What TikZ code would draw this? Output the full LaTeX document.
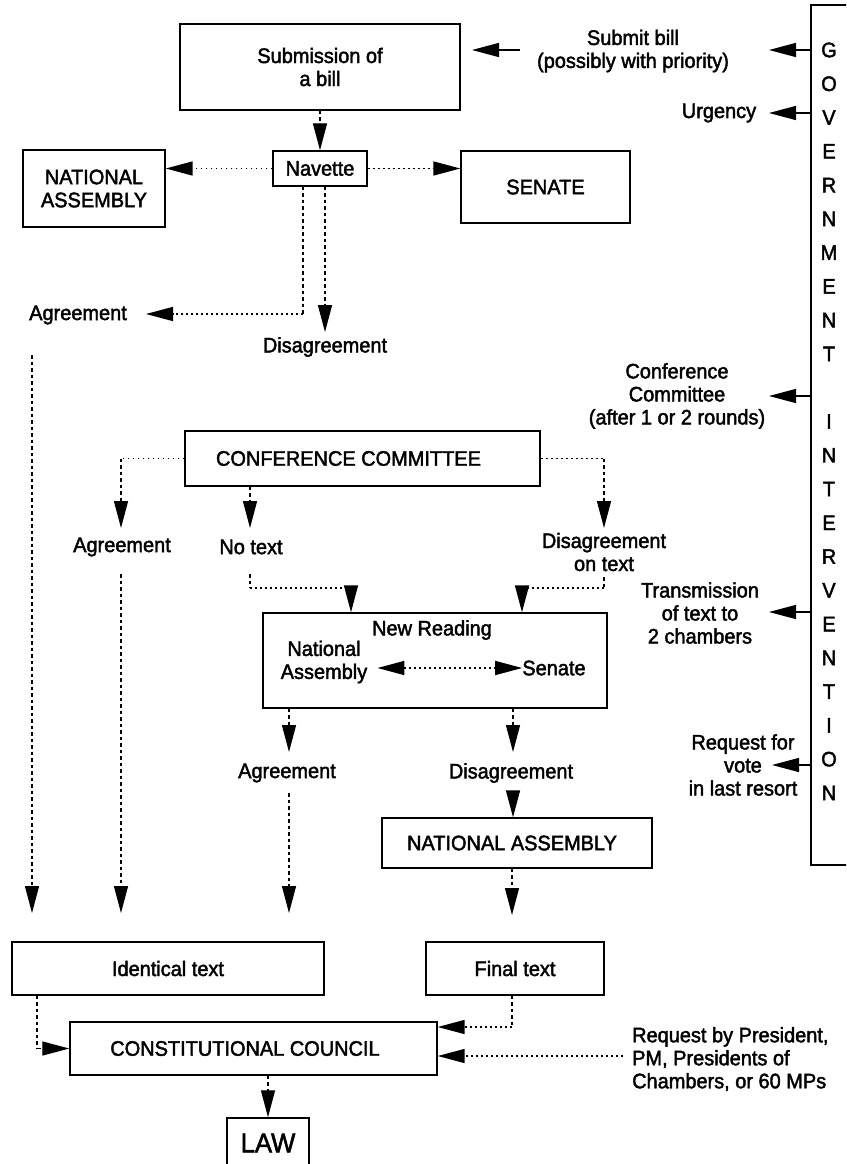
\documentclass[tikz,border=0pt]{standalone}
\usepackage{fontspec}
\setmainfont[FakeStretch=0.95,FakeBold=2]{Liberation Sans}
\usetikzlibrary{arrows.meta}
\begin{document}
\begin{tikzpicture}[x=1pt,y=-1pt,
  box/.style={draw, line width=1.4pt, inner sep=0pt, align=center, font=\fontsize{21}{23}\selectfont},
  lbl/.style={inner sep=0pt, align=center, font=\fontsize{21}{23}\selectfont},
  tip/.style={-{Triangle[length=27pt,width=14pt]}},
  dots/.style={line width=1.5pt, dash pattern=on 1.8pt off 3.2pt},
  dsh/.style={line width=1.3pt, dash pattern=on 3.5pt off 3pt},
  sol/.style={line width=1.4pt}
]
\clip (0,0) rectangle (846,1164);
\fill[white] (0,0) rectangle (846,1164);

% Government intervention column
\node[draw, line width=1.4pt, minimum width=69pt, minimum height=860pt, inner sep=0pt] (gov) at (845.5,435) {};
\foreach \c [count=\i from 0] in {G,O,V,E,R,N,M,E,N,T}
  \node[lbl] (ga\i) at (829,50+\i*33.77) {\c};
\foreach \c [count=\i from 11] in {I,N,T,E,R,V,E,N,T,I,O,N}
  \node[lbl] (gb\i) at (829,50+\i*33.77) {\c};

% Boxes
\node[box, minimum width=280pt, minimum height=86pt] (sub) at (320,67) {Submission of\\a bill};
\node[box, minimum width=94pt, minimum height=35pt] (nav) at (320,168.5) {Navette};
\node[box, minimum width=142pt, minimum height=77pt] (na1) at (94,188.5) {NATIONAL\\ASSEMBLY};
\node[box, minimum width=169pt, minimum height=72pt] (sen) at (545.5,187) {SENATE};
\node[box, minimum width=355pt, minimum height=55pt] (ccb) at (362.5,458.5) {\hspace*{-28pt}CONFERENCE COMMITTEE};
\node[box, minimum width=344pt, minimum height=95pt] (nr) at (435,660.5) {};
\node[box, minimum width=270pt, minimum height=50pt] (na2) at (517,843) {\hspace*{-10pt}NATIONAL ASSEMBLY};
\node[box, minimum width=312pt, minimum height=53pt] (idt) at (168,968.5) {Identical text};
\node[box, minimum width=178pt, minimum height=53pt] (fin) at (515,968.5) {Final text};
\node[box, minimum width=367pt, minimum height=53pt] (con) at (253.5,1048.5) {\hspace*{-17pt}CONSTITUTIONAL COUNCIL};
\node[box, minimum width=82pt, minimum height=50pt, font=\fontsize{27}{29}\selectfont] (law) at (268,1143) {LAW};

% Inner texts of New Reading
\node[lbl] (nrt) at (432,630) {New Reading};
\node[lbl] (nra) at (324,662) {National\\Assembly};
\node[lbl] (nrs) at (554,668) {Senate};

% Labels
\node[lbl] (submit) at (633,51) {Submit bill\\(possibly with priority)};
\node[lbl] (urg) at (719,113) {Urgency};
\node[lbl] (ccl) at (677,396) {Conference\\Committee\\(after 1 or 2 rounds)};
\node[lbl] (trans) at (700,613) {Transmission\\of text to\\2 chambers};
\node[lbl] (vote) at (743,765) {Request for\\vote\\in last resort};
\node[lbl, align=left, anchor=west] (req) at (632,1059) {Request by President,\\PM, Presidents of\\Chambers, or 60 MPs};
\node[lbl] (agr1) at (78,315) {Agreement};
\node[lbl] (dis1) at (325,347) {Disagreement};
\node[lbl] (agr2) at (122,547) {Agreement};
\node[lbl] (notx) at (251,547) {No text};
\node[lbl] (dis2) at (604,552) {Disagreement\\on text};
\node[lbl] (agr3) at (287,773) {Agreement};
\node[lbl] (dis3) at (511,773) {Disagreement};

% Government arrows
\coordinate (t1) at (769,50);
\coordinate (t2) at (769,113);
\coordinate (t3) at (769,396);
\coordinate (t4) at (769,612);
\coordinate (t5) at (772,765);
\foreach \t in {t1,t2,t3,t4,t5}
  \draw[sol,tip] (gov.west |- \t) -- (\t);

% Submit bill -> submission
\coordinate (s1) at (472,50);
\draw[sol,tip] ([xshift=-17pt]submit.west |- s1) -- (s1);

% Submission -> Navette
\draw[dsh,tip] (sub.south) -- (nav.north);
\draw[dots,tip] (nav.west) -- (nav.west -| na1.east);
\draw[dots,tip] (nav.east) -- (nav.east -| sen.west);

% Navette -> Agreement / Disagreement
\coordinate (c1) at (303,314);
\coordinate (a1t) at (146,314);
\draw[dsh] (nav.south -| c1) -- (c1);
\draw[dots,tip] (c1) -- (a1t);
\coordinate (d1t) at (325,332);
\draw[dsh,tip] (nav.south -| d1t) -- (d1t);

% Long verticals to Identical text
\coordinate (v1s) at (32,355);
\coordinate (v1t) at (32,913);
\draw[dsh,tip] (v1s) -- (v1t);
\coordinate (v2s) at (121,574);
\coordinate (v2t) at (121,913);
\draw[dsh,tip] (v2s) -- (v2t);

% Conference committee outputs
\coordinate (k1) at (121,458.5);
\coordinate (k1t) at (121,528);
\draw[dots] (ccb.west) -- (k1);
\draw[dsh,tip] (k1) -- (k1t);
\coordinate (k2t) at (250,528);
\draw[dsh,tip] (ccb.south -| k2t) -- (k2t);
\coordinate (k3) at (604,458.5);
\coordinate (k3t) at (604,528);
\draw[dots] (ccb.east) -- (k3);
\draw[dsh,tip] (k3) -- (k3t);

% No text / Disagreement on text -> New Reading
\coordinate (p1) at (250,574);
\coordinate (p2) at (250,588);
\coordinate (p3) at (351,588);
\draw[dsh] (p1) -- (p2);
\draw[dots] (p2) -- (p3);
\draw[sol,tip] (p3) -- (nr.north -| p3);
\coordinate (q1) at (604,577);
\coordinate (q2) at (604,588);
\coordinate (q3) at (522,588);
\draw[dsh] (q1) -- (q2);
\draw[dots] (q2) -- (q3);
\draw[sol,tip] (q3) -- (nr.north -| q3);

% National Assembly <-> Senate inside New Reading
\draw[dots,{Triangle[length=27pt,width=14pt]}-{Triangle[length=27pt,width=14pt]}]
  ([xshift=10pt]nra.east |- nrs.west) -- (nrs.west);

% New Reading outputs
\coordinate (r1t) at (289,752);
\draw[dsh,tip] (nr.south -| r1t) -- (r1t);
\coordinate (r2t) at (513,752);
\draw[dsh,tip] (nr.south -| r2t) -- (r2t);
\coordinate (r3s) at (289,793);
\coordinate (r3t) at (289,913);
\draw[dsh,tip] (r3s) -- (r3t);
\coordinate (r4s) at (513,792);
\draw[sol,tip] (r4s) -- (na2.north -| r4s);
\coordinate (r5t) at (512,915);
\draw[dsh,tip] (na2.south -| r5t) -- (r5t);

% Into Constitutional Council
\coordinate (i1) at (37,1048.5);
\draw[dsh] (idt.south -| i1) -- (i1);
\draw[dsh,tip] (i1) -- (con.west);
\coordinate (f1) at (512,1027);
\draw[dsh] (fin.south -| f1) -- (f1);
\draw[dots,tip] (f1) -- (con.east |- f1);
\coordinate (e1) at (623,1056);
\draw[dots,tip] (e1) -- (con.east |- e1);

% Council -> Law
\draw[dsh,tip] (con.south -| law.north) -- (law.north);
\end{tikzpicture}
\end{document}
